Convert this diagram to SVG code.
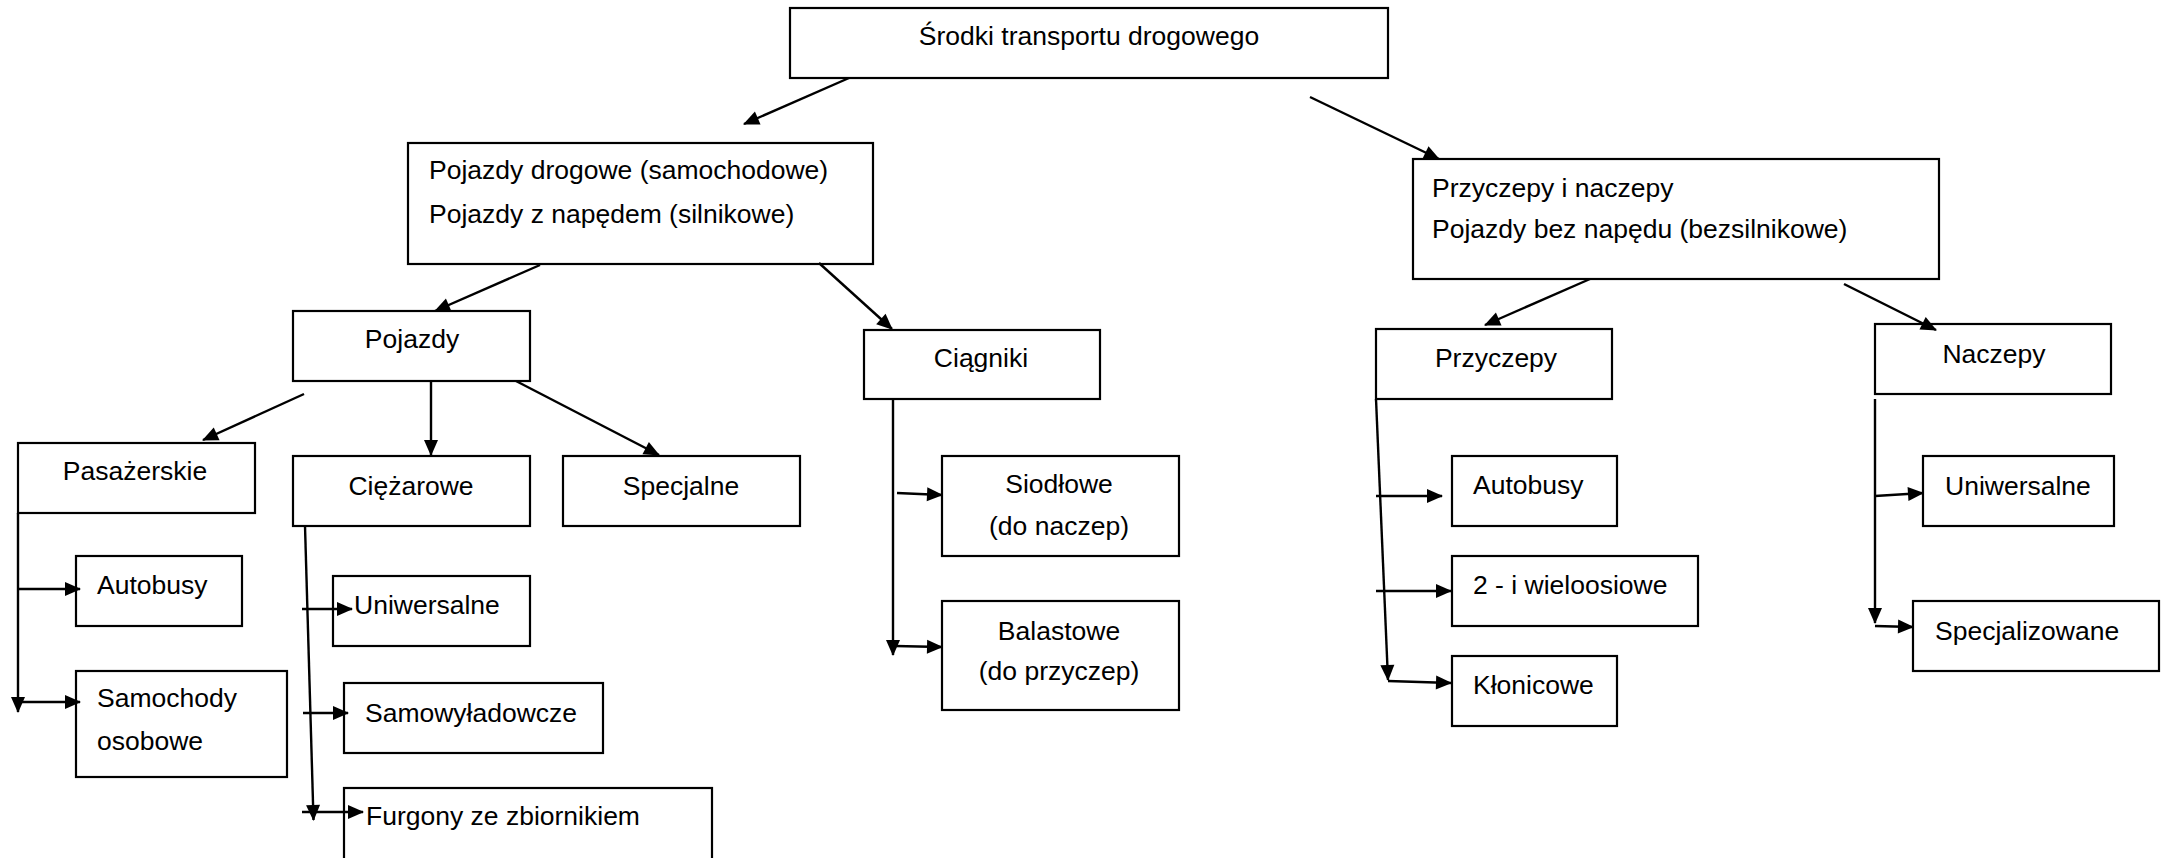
<svg xmlns="http://www.w3.org/2000/svg" width="2164" height="858" viewBox="0 0 2164 858">
<style>
rect{fill:#fff;stroke:#000;stroke-width:2.2}
text{font-family:"Liberation Sans",Arial,sans-serif;font-size:26.5px;fill:#000}
.c{text-anchor:middle}
#connectors line{stroke:#000;stroke-width:2.4;fill:none}
.a{marker-end:url(#ah)}
</style>
<defs>
<marker id="ah" markerUnits="userSpaceOnUse" markerWidth="16" markerHeight="14" refX="15" refY="7" orient="auto" overflow="visible">
<path d="M0,0 L16,7 L0,14 Z" fill="#000"/>
</marker>
</defs>
<rect x="0" y="0" width="2164" height="858" style="stroke:none"/>
<g id="n-root"><rect x="790" y="8" width="598" height="70"/><text class="c" x="1089" y="45">Środki transportu drogowego</text></g>
<g id="n-pojazdy-drogowe"><rect x="408" y="143" width="465" height="121"/><text x="429" y="179">Pojazdy drogowe (samochodowe)</text><text x="429" y="223">Pojazdy z napędem (silnikowe)</text></g>
<g id="n-przyczepy-naczepy"><rect x="1413" y="159" width="526" height="120"/><text x="1432" y="197">Przyczepy i naczepy</text><text x="1432" y="238">Pojazdy bez napędu (bezsilnikowe)</text></g>
<g id="n-pojazdy"><rect x="293" y="311" width="237" height="70"/><text class="c" x="412" y="348">Pojazdy</text></g>
<g id="n-ciagniki"><rect x="864" y="330" width="236" height="69"/><text class="c" x="981" y="367">Ciągniki</text></g>
<g id="n-przyczepy"><rect x="1376" y="329" width="236" height="70"/><text class="c" x="1496" y="367">Przyczepy</text></g>
<g id="n-naczepy"><rect x="1875" y="324" width="236" height="70"/><text class="c" x="1994" y="363">Naczepy</text></g>
<g id="n-pasazerskie"><rect x="18" y="443" width="237" height="70"/><text class="c" x="135" y="480">Pasażerskie</text></g>
<g id="n-ciezarowe"><rect x="293" y="456" width="237" height="70"/><text class="c" x="411" y="495">Ciężarowe</text></g>
<g id="n-specjalne"><rect x="563" y="456" width="237" height="70"/><text class="c" x="681" y="495">Specjalne</text></g>
<g id="n-autobusy-l"><rect x="76" y="556" width="166" height="70"/><text x="97" y="594">Autobusy</text></g>
<g id="n-samochody"><rect x="76" y="671" width="211" height="106"/><text x="97" y="707">Samochody</text><text x="97" y="750">osobowe</text></g>
<g id="n-uniwersalne-l"><rect x="333" y="576" width="197" height="70"/><text x="354" y="614">Uniwersalne</text></g>
<g id="n-samowyladowcze"><rect x="344" y="683" width="259" height="70"/><text x="365" y="722">Samowyładowcze</text></g>
<g id="n-furgony"><rect x="344" y="788" width="368" height="80"/><text x="366" y="825">Furgony ze zbiornikiem</text></g>
<g id="n-siodlowe"><rect x="942" y="456" width="237" height="100"/><text class="c" x="1059" y="493">Siodłowe</text><text class="c" x="1059" y="535">(do naczep)</text></g>
<g id="n-balastowe"><rect x="942" y="601" width="237" height="109"/><text class="c" x="1059" y="640">Balastowe</text><text class="c" x="1059" y="680">(do przyczep)</text></g>
<g id="n-autobusy-r"><rect x="1452" y="456" width="165" height="70"/><text x="1473" y="494">Autobusy</text></g>
<g id="n-wieloosiowe"><rect x="1452" y="556" width="246" height="70"/><text x="1473" y="594">2 - i wieloosiowe</text></g>
<g id="n-klonicowe"><rect x="1452" y="656" width="165" height="70"/><text x="1473" y="694">Kłonicowe</text></g>
<g id="n-uniwersalne-r"><rect x="1923" y="456" width="191" height="70"/><text x="1945" y="495">Uniwersalne</text></g>
<g id="n-specjalizowane"><rect x="1913" y="601" width="246" height="70"/><text x="1935" y="640">Specjalizowane</text></g>
<g id="connectors">
<line class="a" x1="849" y1="78" x2="744" y2="124"/>
<line class="a" x1="1310" y1="97" x2="1439" y2="159"/>
<line class="a" x1="540" y1="265" x2="435" y2="311"/>
<line class="a" x1="819" y1="263" x2="892" y2="329"/>
<line class="a" x1="1590" y1="279" x2="1485" y2="325"/>
<line class="a" x1="1844" y1="284" x2="1936" y2="330"/>
<line class="a" x1="304" y1="394" x2="203" y2="440"/>
<line class="a" x1="431" y1="381" x2="431" y2="455"/>
<line class="a" x1="516" y1="381" x2="659" y2="455"/>
<line class="a" x1="18" y1="513" x2="18" y2="712"/>
<line class="a" x1="18" y1="589" x2="80" y2="589"/>
<line class="a" x1="18" y1="702" x2="80" y2="702"/>
<line class="a" x1="305" y1="526" x2="313.5" y2="820"/>
<line class="a" x1="302" y1="609" x2="352" y2="609"/>
<line class="a" x1="303" y1="713" x2="348" y2="713"/>
<line class="a" x1="302" y1="812" x2="363" y2="812"/>
<line class="a" x1="893" y1="399" x2="893" y2="655"/>
<line class="a" x1="897" y1="493" x2="942" y2="495"/>
<line class="a" x1="895" y1="646" x2="942" y2="647"/>
<line class="a" x1="1376" y1="399" x2="1388" y2="680"/>
<line class="a" x1="1376" y1="496" x2="1442" y2="496"/>
<line class="a" x1="1376" y1="591" x2="1451" y2="591"/>
<line class="a" x1="1388" y1="681" x2="1451" y2="683"/>
<line class="a" x1="1875" y1="399" x2="1875" y2="623"/>
<line class="a" x1="1875" y1="496" x2="1923" y2="493"/>
<line class="a" x1="1875" y1="626" x2="1913" y2="627"/>
</g>
</svg>
